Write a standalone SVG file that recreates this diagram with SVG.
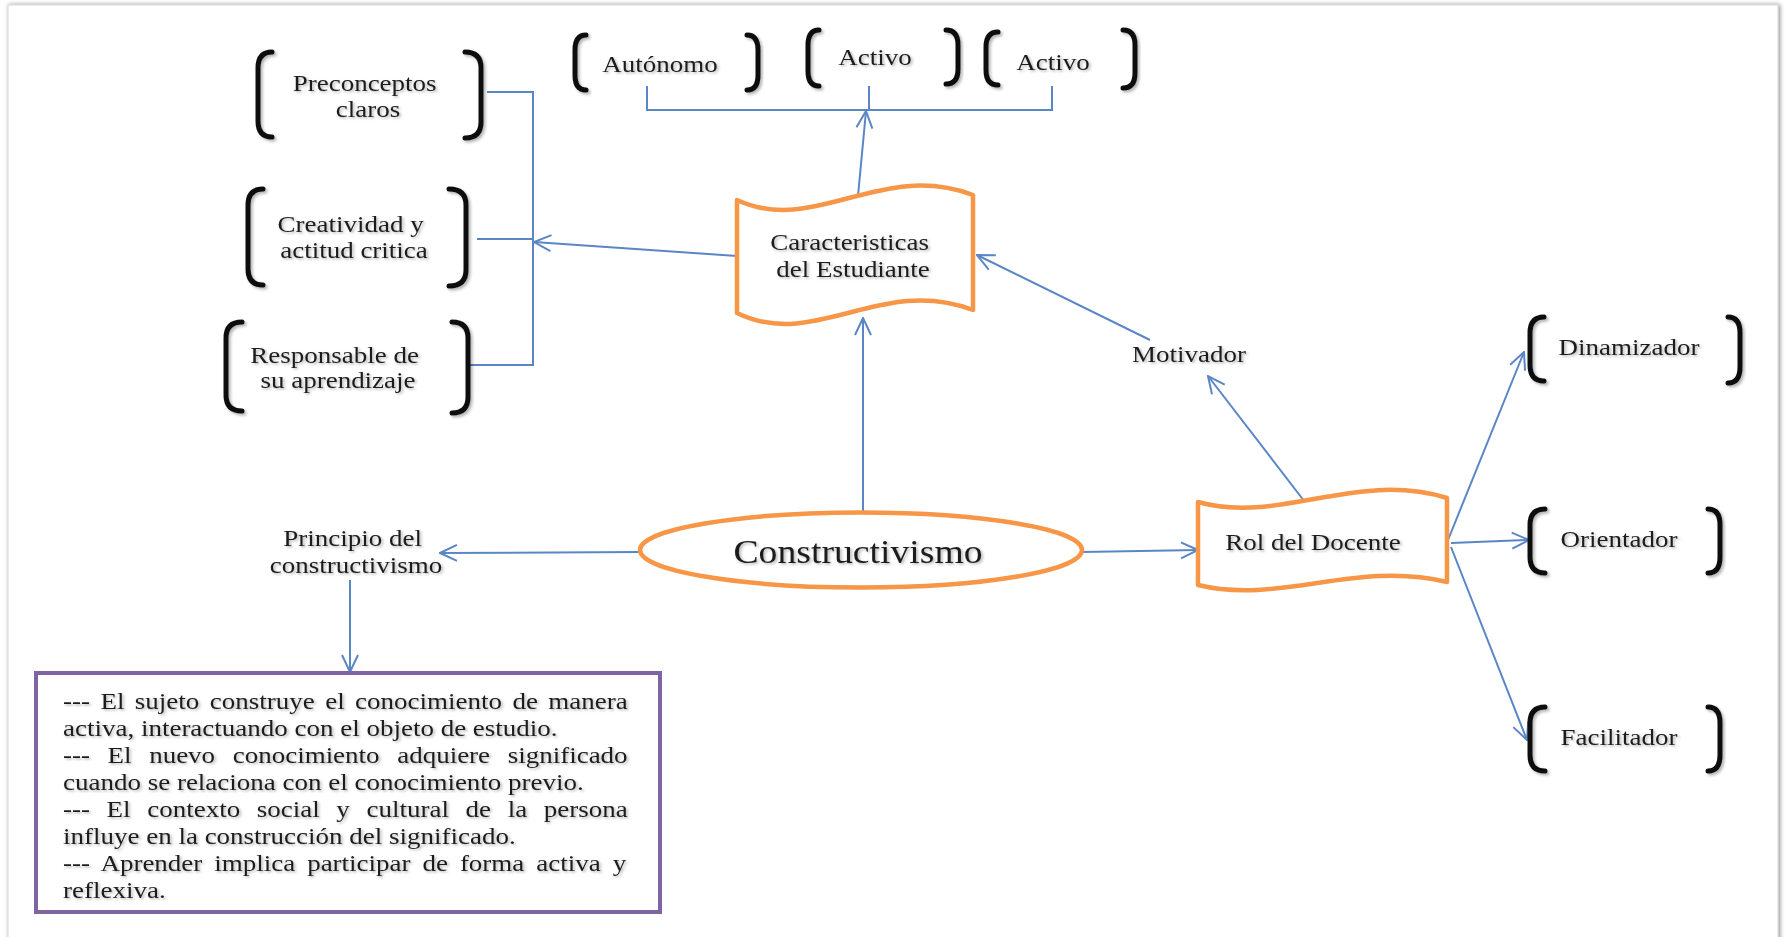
<svg xmlns="http://www.w3.org/2000/svg" width="1787" height="937" viewBox="0 0 1787 937">
  <defs>
    <style>
      .lbl { font-family: "Liberation Serif", "Times New Roman", serif; font-size: 24px; fill: #1e1e1e; filter: url(#txtShadow); }
      .big { font-size: 33.5px; }
      .body { font-family: "Liberation Serif", "Times New Roman", serif; font-size: 24px; fill: #1e1e1e; }
      .brk { fill: none; stroke: #111; stroke-width: 5; stroke-linecap: round; stroke-linejoin: round; filter: url(#inkShadow); }
      .wave { fill: #fff; stroke: #f79646; stroke-width: 4.5; stroke-linejoin: round; }
      .link { fill: none; stroke: #5b86c5; stroke-width: 2; }
      .arrow { marker-end: url(#openHead); }
    </style>
    <marker id="openHead" viewBox="0 0 20 20" refX="19" refY="10" markerWidth="20" markerHeight="20" markerUnits="userSpaceOnUse" orient="auto">
      <path d="M2,2 L19,10 L2,18" fill="none" stroke="#5b86c5" stroke-width="2"/>
    </marker>
    <filter id="txtShadow" x="-10%" y="-30%" width="120%" height="160%">
      <feDropShadow dx="1.5" dy="1.5" stdDeviation="1.2" flood-color="#000" flood-opacity="0.3"/>
    </filter>
    <filter id="inkShadow" x="-50%" y="-20%" width="200%" height="140%">
      <feDropShadow dx="2" dy="2" stdDeviation="1.5" flood-color="#000" flood-opacity="0.3"/>
    </filter>
    <filter id="pageShadow" x="-2%" y="-2%" width="104%" height="104%">
      <feDropShadow dx="1.5" dy="0" stdDeviation="2" flood-color="#000" flood-opacity="0.45"/>
    </filter>
  </defs>

  <!-- page -->
  <rect x="0" y="0" width="1787" height="937" fill="#fff"/>
  <rect x="8" y="5" width="1770" height="945" fill="#fff" stroke="#d6d6d6" stroke-width="1" filter="url(#pageShadow)"/>

  <!-- connectors -->
  <g id="connectors">
    <!-- left bracket group joined to one spine -->
    <polyline class="link" points="487,92 533,92 533,365 470,365"/>
    <line class="link" x1="477" y1="239" x2="533" y2="239"/>
    <!-- top row joined by a bus -->
    <polyline class="link" points="647,86 647,110 1052,110 1052,86"/>
    <line class="link" x1="869" y1="86" x2="869" y2="110"/>
    <!-- arrows from Caracteristicas del Estudiante -->
    <line class="link arrow" x1="858" y1="196" x2="866" y2="111"/>
    <line class="link arrow" x1="737" y1="256" x2="534" y2="242"/>
    <!-- into Caracteristicas del Estudiante -->
    <line class="link arrow" x1="863" y1="512" x2="863" y2="318"/>
    <line class="link arrow" x1="1150" y1="340" x2="977" y2="255"/>
    <!-- from Constructivismo -->
    <line class="link arrow" x1="640" y1="552" x2="440" y2="553"/>
    <line class="link arrow" x1="1082" y1="552" x2="1198" y2="550"/>
    <!-- Principio del constructivismo to the list -->
    <line class="link arrow" x1="350" y1="580" x2="350" y2="672"/>
    <!-- from Rol del Docente -->
    <line class="link arrow" x1="1308" y1="506" x2="1208" y2="376"/>
    <line class="link arrow" x1="1448" y1="540" x2="1524" y2="352"/>
    <line class="link arrow" x1="1451" y1="543" x2="1529" y2="540"/>
    <line class="link arrow" x1="1451" y1="547" x2="1527" y2="740"/>
  </g>

  <!-- central idea -->
  <g id="constructivismo">
    <ellipse cx="861" cy="550" rx="221" ry="37.5" fill="#fff" stroke="#f79646" stroke-width="4.5"/>
    <text class="lbl big" text-anchor="middle" transform="translate(858,0) scale(1.125,1)" x="0" y="563">Constructivismo</text>
  </g>

  <g id="caracteristicas">
    <path class="wave" d="M737,200 C815,236 880,160 973,195 L973,310 C880,275 815,351 737,313 Z"/>
    <text class="lbl" text-anchor="middle" transform="translate(853,0) scale(1.125,1)">
      <tspan x="0" y="250">Caracteristicas</tspan>
      <tspan x="0" y="277">del Estudiante</tspan>
    </text>
  </g>

  <g id="rol-docente">
    <path class="wave" d="M1198,502 C1280,525 1355,470 1447,498 L1447,582 C1355,560 1280,605 1198,585 Z"/>
    <text class="lbl" text-anchor="middle" transform="translate(1313,0) scale(1.125,1)" x="0" y="550">Rol del Docente</text>
  </g>

  <g id="motivador">
    <text class="lbl" text-anchor="middle" transform="translate(1189,0) scale(1.125,1)" x="0" y="362">Motivador</text>
  </g>

  <g id="principio">
    <text class="lbl" text-anchor="middle" transform="translate(356,0) scale(1.125,1)">
      <tspan x="0" y="546">Principio del</tspan>
      <tspan x="0" y="573">constructivismo</tspan>
    </text>
  </g>

  <!-- student traits (left column) -->
  <g id="preconceptos">
    <path class="brk" d="M272,52 Q258,52 258,68 L258,121 Q258,137 272,137"/>
    <path class="brk" d="M465,52 Q481,52 481,68 L481,122 Q481,138 465,138"/>
    <text class="lbl" text-anchor="middle" transform="translate(368,0) scale(1.125,1)">
      <tspan x="0" y="91">Preconceptos</tspan>
      <tspan x="0" y="117">claros</tspan>
    </text>
  </g>

  <g id="creatividad">
    <path class="brk" d="M263,189 Q248,189 248,205 L248,269 Q248,285 263,285"/>
    <path class="brk" d="M449,189 Q466,189 466,205 L466,270 Q466,286 449,286"/>
    <text class="lbl" text-anchor="middle" transform="translate(354,0) scale(1.125,1)">
      <tspan x="0" y="232">Creatividad y</tspan>
      <tspan x="0" y="258">actitud critica</tspan>
    </text>
  </g>

  <g id="responsable">
    <path class="brk" d="M242,322 Q226,322 226,338 L226,395 Q226,411 242,411"/>
    <path class="brk" d="M452,322 Q468,322 468,338 L468,397 Q468,413 452,413"/>
    <text class="lbl" text-anchor="middle" transform="translate(338,0) scale(1.125,1)">
      <tspan x="0" y="363">Responsable de</tspan>
      <tspan x="0" y="388">su aprendizaje</tspan>
    </text>
  </g>

  <!-- student traits (top row) -->
  <g id="autonomo">
    <path class="brk" d="M586,35 Q575,35 575,50 L575,75 Q575,90 586,90"/>
    <path class="brk" d="M747,35 Q758,35 758,50 L758,75 Q758,90 747,90"/>
    <text class="lbl" text-anchor="middle" transform="translate(660,0) scale(1.125,1)" x="0" y="72">Autónomo</text>
  </g>

  <g id="activo-1">
    <path class="brk" d="M819,30 Q808,30 808,45 L808,71 Q808,86 819,86"/>
    <path class="brk" d="M946,30 Q958,30 958,45 L958,69 Q958,84 946,84"/>
    <text class="lbl" text-anchor="middle" transform="translate(875,0) scale(1.125,1)" x="0" y="65">Activo</text>
  </g>

  <g id="activo-2">
    <path class="brk" d="M998,32 Q986,32 986,47 L986,70 Q986,85 998,85"/>
    <path class="brk" d="M1123,30 Q1135,30 1135,45 L1135,73 Q1135,88 1123,88"/>
    <text class="lbl" text-anchor="middle" transform="translate(1053,0) scale(1.125,1)" x="0" y="70">Activo</text>
  </g>

  <!-- teacher roles (right column) -->
  <g id="dinamizador">
    <path class="brk" d="M1544,317 Q1530,317 1530,333 L1530,365 Q1530,381 1544,381"/>
    <path class="brk" d="M1728,317 Q1740,317 1740,333 L1740,367 Q1740,383 1728,383"/>
    <text class="lbl" text-anchor="middle" transform="translate(1629,0) scale(1.125,1)" x="0" y="355">Dinamizador</text>
  </g>

  <g id="orientador">
    <path class="brk" d="M1545,509 Q1530,509 1530,525 L1530,557 Q1530,573 1545,573"/>
    <path class="brk" d="M1708,509 Q1720,509 1720,525 L1720,557 Q1720,573 1708,573"/>
    <text class="lbl" text-anchor="middle" transform="translate(1619,0) scale(1.125,1)" x="0" y="547">Orientador</text>
  </g>

  <g id="facilitador">
    <path class="brk" d="M1545,707 Q1530,707 1530,723 L1530,755 Q1530,771 1545,771"/>
    <path class="brk" d="M1708,707 Q1720,707 1720,723 L1720,755 Q1720,771 1708,771"/>
    <text class="lbl" text-anchor="middle" transform="translate(1619,0) scale(1.125,1)" x="0" y="745">Facilitador</text>
  </g>

  <!-- principles of constructivism -->
  <g id="principios">
    <rect x="36" y="673" width="624" height="239" fill="#fff" stroke="#8064a2" stroke-width="4"/>
    <g transform="translate(63,0) scale(1.125,1)" filter="url(#txtShadow)">
      <text class="body" x="0" y="709" style="word-spacing:3.3px">--- El sujeto construye el conocimiento de manera</text>
      <text class="body" x="0" y="736">activa, interactuando con el objeto de estudio.</text>
      <text class="body" x="0" y="763" style="word-spacing:9.65px">--- El nuevo conocimiento adquiere significado</text>
      <text class="body" x="0" y="790">cuando se relaciona con el conocimiento previo.</text>
      <text class="body" x="0" y="817" style="word-spacing:8.79px">--- El contexto social y cultural de la persona</text>
      <text class="body" x="0" y="844">influye en la construcción del significado.</text>
      <text class="body" x="0" y="871" style="word-spacing:4.62px">--- Aprender implica participar de forma activa y</text>
      <text class="body" x="0" y="898">reflexiva.</text>
    </g>
  </g>
</svg>
